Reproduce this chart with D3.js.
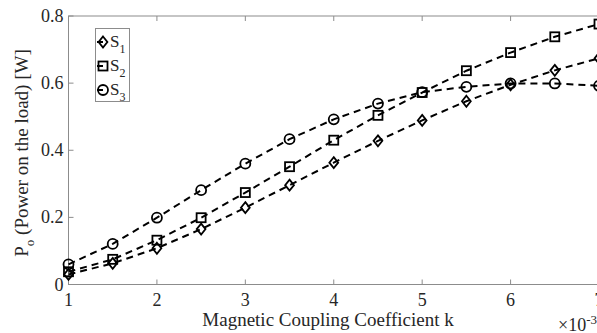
<!DOCTYPE html>
<html>
<head>
<meta charset="utf-8">
<script src="https://cdn.jsdelivr.net/npm/d3@7"></script>
<style>
  body { margin: 0; background: #fff; overflow: hidden; }
  svg text { font-family: "Liberation Serif", "Times New Roman", "DejaVu Serif", serif; }
  .tick-label { font-size: 18px; fill: #262626; }
  .axis-label { font-size: 19px; fill: #262626; }
  .legend-label { font-size: 17px; fill: #262626; }
</style>
</head>
<body>
<div id="chart"></div>
<script>
// k values (x 1e-3)
var kValues = [1, 1.5, 2, 2.5, 3, 3.5, 4, 4.5, 5, 5.5, 6, 6.5, 7]
var s1 = [0.030, 0.063, 0.108, 0.165, 0.229, 0.296, 0.363, 0.428, 0.489, 0.546, 0.595, 0.638, 0.674]
var s2 = [0.038, 0.075, 0.132, 0.199, 0.274, 0.351, 0.430, 0.504, 0.572, 0.637, 0.691, 0.738, 0.776]
var s3 = [0.060, 0.121, 0.199, 0.281, 0.360, 0.433, 0.492, 0.539, 0.573, 0.589, 0.599, 0.599, 0.592]
var seriesNames = ["S1", "S2", "S3"]
var xTicks = [1, 2, 3, 4, 5, 6, 7]
var yTicks = [0, 0.2, 0.4, 0.6, 0.8]

var width = 597, height = 333
var margin = {left: 68.5, right: -2, top: 16, bottom: 48.5}

var xScale = d3.scaleLinear().domain([1, 7]).range([margin.left, width - margin.right])
var yScale = d3.scaleLinear().domain([0, 0.8]).range([height - margin.bottom, margin.top])

var svg = d3.select("#chart").append("svg")
    .attr("width", width)
    .attr("height", height)
    .style("display", "block")

var axisColor = "#8c8c8c"
var x0 = xScale(1), x1 = xScale(7), y0 = yScale(0), y1 = yScale(0.8)

// box
svg.append("rect")
    .attr("x", x0).attr("y", y1)
    .attr("width", x1 - x0).attr("height", y0 - y1)
    .attr("fill", "none").attr("stroke", axisColor).attr("stroke-width", 1)

// x ticks (inward, bottom and top)
var tickLen = 5
xTicks.forEach(function(t) {
    var x = xScale(t)
    svg.append("line").attr("x1", x).attr("x2", x).attr("y1", y0).attr("y2", y0 - tickLen)
        .attr("stroke", axisColor)
    svg.append("line").attr("x1", x).attr("x2", x).attr("y1", y1).attr("y2", y1 + tickLen)
        .attr("stroke", axisColor)
    svg.append("text").attr("class", "tick-label")
        .attr("x", x).attr("y", y0 + 21)
        .attr("text-anchor", "middle")
        .text(t)
})

yTicks.forEach(function(t) {
    var y = yScale(t)
    svg.append("line").attr("x1", x0).attr("x2", x0 + tickLen).attr("y1", y).attr("y2", y)
        .attr("stroke", axisColor)
    svg.append("text").attr("class", "tick-label")
        .attr("x", x0 - 5).attr("y", y + 6)
        .attr("text-anchor", "end")
        .text(t === 0 ? "0" : d3.format(".1f")(t))
})

// axis labels
svg.append("text").attr("class", "axis-label")
    .attr("x", 328).attr("y", 326)
    .attr("text-anchor", "middle")
    .text("Magnetic Coupling Coefficient k")

var ex = svg.append("text").attr("class", "tick-label")
    .attr("x", 558).attr("y", 331)
ex.append("tspan").text("\u00d710")
ex.append("tspan").attr("dy", -7).style("font-size", "13px").text("-3")

var yl = svg.append("text").attr("class", "axis-label")
    .attr("transform", "translate(" + 28 + "," + 153 + ") rotate(-90)")
    .attr("text-anchor", "middle")
yl.append("tspan").text("P")
yl.append("tspan").attr("dy", 6).style("font-size", "13px").text("o")
yl.append("tspan").attr("dy", -6).text(" (Power on the load) [W]")

// markers
function drawMarker(g, type, x, y) {
    if (type === 0) {
        var s = 5.5
        g.append("path")
            .attr("d", "M" + x + "," + (y - s) + "L" + (x + s * 0.8) + "," + y + "L" + x + "," + (y + s) + "L" + (x - s * 0.8) + "," + y + "Z")
    } else if (type === 1) {
        var h = 4.5
        g.append("rect").attr("x", x - h).attr("y", y - h).attr("width", 2 * h).attr("height", 2 * h)
    } else {
        g.append("circle").attr("cx", x).attr("cy", y).attr("r", 5)
    }
}

var allSeries = [s1, s2, s3]
var line = d3.line()
    .x(function(d) { return xScale(d[0]) })
    .y(function(d) { return yScale(d[1]) })

allSeries.forEach(function(vals, i) {
    var pts = kValues.map(function(k, j) { return [k, vals[j]] })
    svg.append("path")
        .datum(pts)
        .attr("d", line)
        .attr("fill", "none")
        .attr("stroke", "#000")
        .attr("stroke-width", 2)
        .attr("stroke-dasharray", "7,5")
    var g = svg.append("g")
        .attr("fill", "none").attr("stroke", "#000").attr("stroke-width", 1.8)
    pts.forEach(function(p) { drawMarker(g, i, xScale(p[0]), yScale(p[1])) })
})

// legend
var lg = svg.append("g")
lg.append("rect")
    .attr("x", 95.5).attr("y", 28.5).attr("width", 34).attr("height", 73)
    .attr("fill", "#fff").attr("stroke", axisColor)
var legendY = [42, 66, 90]
seriesNames.forEach(function(name, i) {
    var y = legendY[i]
    lg.append("line").attr("x1", 97).attr("x2", 103).attr("y1", y).attr("y2", y)
        .attr("stroke", "#000").attr("stroke-width", 2)
    var mg = lg.append("g").attr("fill", "none").attr("stroke", "#000").attr("stroke-width", 1.8)
    drawMarker(mg, i, 103, y)
    var t = lg.append("text").attr("class", "legend-label")
        .attr("x", 110).attr("y", y + 5)
    t.append("tspan").text(name.charAt(0))
    t.append("tspan").attr("dy", 6).style("font-size", "12px").text(name.slice(1))
})
</script>
</body>
</html>
